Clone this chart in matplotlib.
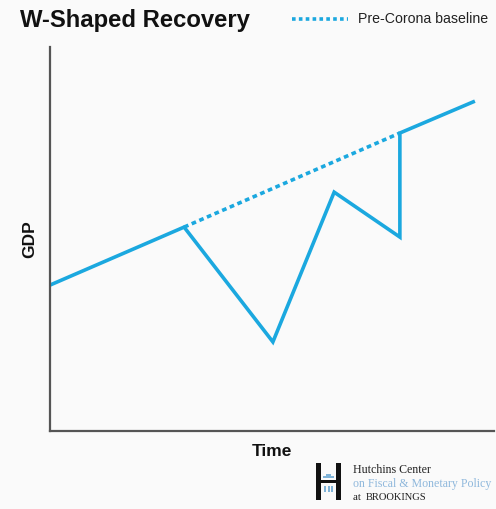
import matplotlib
matplotlib.use("Agg")
import matplotlib.pyplot as plt
from matplotlib.patches import Rectangle

# Stylised GDP path (time, GDP index)
path_time = [0, 30.2, 50.2, 64.0, 78.8, 78.8, 95.7]
path_gdp = [38.0, 53.1, 23.2, 62.2, 50.5, 77.6, 85.9]

# Pre-Corona trend between the shock and the catch-up
baseline_time = [30.2, 78.8]
baseline_gdp = [53.1, 77.6]

title_text = "W-Shaped Recovery"
legend_text = "Pre-Corona baseline"
x_label = "Time"
y_label = "GDP"
logo_lines = ["Hutchins Center", "on Fiscal & Monetary Policy", "at BROOKINGS"]

BLUE = "#1ba8df"
BG = "#fafafa"
W, H = 496, 509

fig = plt.figure(figsize=(W / 100, H / 100), dpi=100, facecolor=BG)
ax = fig.add_axes([50 / W, 1 - 431 / H, 444 / W, 384 / H], facecolor=BG)

ax.plot(path_time, path_gdp, color=BLUE, lw=2.6, solid_joinstyle="miter",
        solid_capstyle="butt")
ax.plot(baseline_time, baseline_gdp, color=BLUE, lw=2.6, linestyle=(0, (1.3, 1.0)))

ax.set_xlim(0, 100)
ax.set_ylim(0, 100)
ax.set_xticks([])
ax.set_yticks([])
for side in ("top", "right"):
    ax.spines[side].set_visible(False)
for side in ("left", "bottom"):
    ax.spines[side].set_color("#555555")
    ax.spines[side].set_linewidth(1.6)

ax.set_xlabel(x_label, fontsize=12.5, fontweight="bold", family="Liberation Sans",
              labelpad=9, color="#111111")
ax.set_ylabel(y_label, fontsize=12.5, fontweight="bold", family="Liberation Sans",
              labelpad=9, color="#111111")

# Header: title and legend key
fig.text(20 / W, 1 - 20 / H, title_text, fontsize=17.2, fontweight="bold",
         family="Liberation Sans", va="center", ha="left", color="#111111")
fig.add_artist(plt.Line2D([292 / W, 348 / W], [1 - 19 / H, 1 - 19 / H],
                          color=BLUE, lw=2.6, linestyle=(0, (1.0, 0.9))))
fig.text(358 / W, 1 - 19 / H, legend_text, fontsize=10.2, family="Liberation Sans",
         va="center", ha="left", color="#222222")

# Logo mark
def px_rect(x0, y0, w, h, color):
    fig.add_artist(Rectangle((x0 / W, 1 - (y0 + h) / H), w / W, h / H,
                             transform=fig.transFigure, color=color, lw=0))

px_rect(316, 463, 5, 37, "#111111")
px_rect(336, 463, 5, 37, "#111111")
px_rect(321, 480, 15, 3, "#111111")
px_rect(323, 476, 11, 2, "#7fb3d8")
px_rect(326, 474, 5, 2, "#7fb3d8")
for cx in (324, 327.5, 331):
    px_rect(cx, 486, 2, 6, "#7fb3d8")

fig.text(353 / W, 1 - 470 / H, logo_lines[0], fontsize=8.6, family="Liberation Serif",
         va="center", ha="left", color="#222222")
fig.text(353 / W, 1 - 484 / H, logo_lines[1], fontsize=8.6, family="Liberation Serif",
         va="center", ha="left", color="#8fb8dc")
fig.text(353 / W, 1 - 497 / H, "at ", fontsize=8.0, family="Liberation Serif",
         va="center", ha="left", color="#222222")
fig.text(366 / W, 1 - 497 / H, "BROOKINGS", fontsize=7.6, family="Liberation Serif",
         va="center", ha="left", color="#222222")

fig.savefig("out.png", dpi=100, facecolor=BG)
